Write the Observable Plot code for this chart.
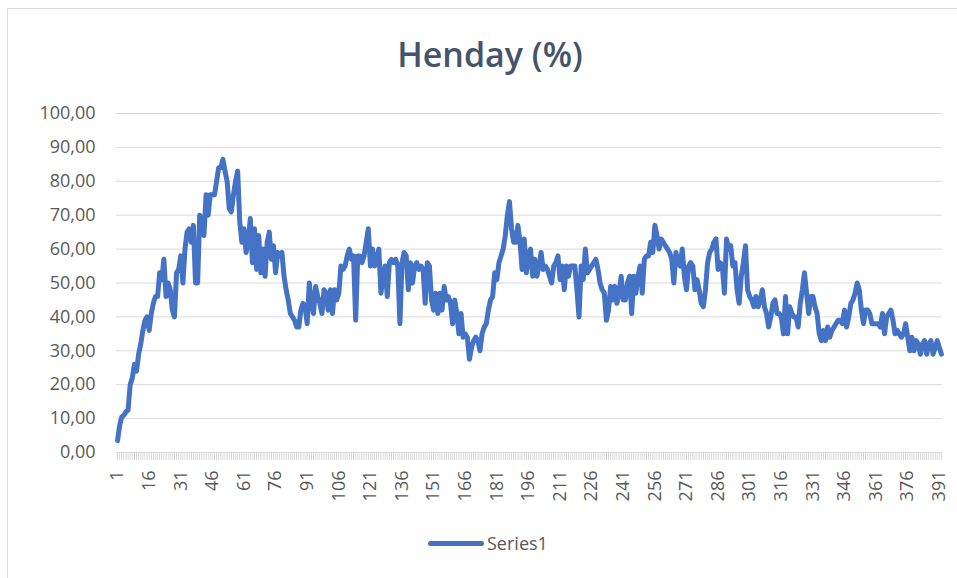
<!DOCTYPE html>
<html>
<head>
<meta charset="utf-8">
<script src="https://cdn.jsdelivr.net/npm/d3@7"></script>
<script src="https://cdn.jsdelivr.net/npm/@observablehq/plot@0.6"></script>
<style>
  html, body { margin: 0; padding: 0; background: #ffffff; }
  body { width: 957px; height: 578px; position: relative; overflow: hidden; font-family: "Open Sans", sans-serif; }
  #frame { position: absolute; left: 7px; top: 8px; width: 960px; height: 600px; border-left: 1px solid #d9d9d9; border-top: 1px solid #d9d9d9; }
  #title { position: absolute; left: 0; width: 980px; top: 31px; text-align: center; font-size: 34px; font-weight: 600; color: #44546a; }
  #chart { position: absolute; left: 0; top: 0; }
  #legend { position: absolute; top: 531px; left: 428px; display: flex; align-items: center; font-size: 18px; color: #595959; }
  #legend .sw { width: 56px; height: 5px; background: #4472c4; border-radius: 3px; margin-right: 3px; }
</style>
</head>
<body>
<div id="frame"></div>
<div id="title">Henday (%)</div>
<div id="chart"></div>
<div id="legend"><span class="sw"></span><span>Series1</span></div>
<script>
const seriesName = "Series1";
const henday = [
  3.5,8,10.5,11,12,12.5,20,22,26,24,
  29,32,36,39,40,36,41,44,46,46,
  53,51,57,46,50,48,42,40,53,54,
  58,50,60,65,66,62,67,50,50,70,
  68,64,76,70,76,76,76,80,84,84,
  86.5,83,80,72,71,76,80,83,68,62,
  66,59,62,69,56,66,54,64,53,60,
  52,62,65,57,61,53,59,58,59,52,
  48,45,41,40,39,37,37,42,44,43,
  38,50,44,41,49,46,44,41,48,47,
  42,48,41,48,45,47,55,54,55,58,
  60,57,58,39,58,58,56,58,62,66,
  55,60,55,57,60,47,52,55,46,56,
  57,56,57,55,38,56,59,58,48,56,
  50,55,56,54,55,54,44,56,55,45,
  42,47,41,47,42,49,45,46,44,38,
  45,41,35,41,34,35,34,27.5,31,33,
  34,33,30,35,37,38,42,45,46,53,
  51,56,58,60,64,70,74,66,62,62,
  67,62,54,63,53,58,60,52,57,52,
  55,59,54,55,54,52,50,55,56,58,
  51,55,48,55,52,55,55,55,48,40,
  55,51,60,53,54,55,56,57,54,50,
  48,47,39,42,49,45,49,44,47,52,
  45,45,50,52,41,52,47,52,55,47,
  57,58,58,62,59,67,64,60,63,62,
  61,60,59,57,50,59,56,55,60,52,
  48,55,56,55,48,51,48,44,43,48,
  56,59,60,62,63,54,56,55,47,63,
  60,61,55,56,48,44,52,56,61,48,
  46,45,43,46,43,45,48,43,41,37,
  40,44,45,41,41,40,35,46,35,43,
  41,40,40,37,44,48,53,47,41,46,
  46,43,41,35,33,36,33,37,34,36,
  37,38,39,39,38,42,37,40,44,45,
  47,50,48,42,38,42,42,41,38,38,
  38,38,37,41,35,40,41,42,39,35,
  36,35,34,35,38,34,30,34,30,33,
  32,29,32,33,29,32,33,29,31,33,
  31,29
];
const categories = henday.map((d, i) => i + 1);
const xTickLabels = [1,16,31,46,61,76,91,106,121,136,151,166,181,196,211,226,241,256,271,286,301,316,331,346,361,376,391];
const yTicks = [0,10,20,30,40,50,60,70,80,90,100];

const data = categories.map((c, i) => ({idx: c, value: henday[i]}));

const chart = Plot.plot({
  width: 957,
  height: 520,
  marginTop: 113,
  marginBottom: 68,
  marginLeft: 116,
  marginRight: 15,
  style: { fontFamily: "'Open Sans', sans-serif", background: "transparent", overflow: "visible" },
  x: { type: "linear", domain: [0.5, categories.length + 0.5], label: null },
  y: { domain: [0, 100], label: null },
  marks: [
    Plot.ruleY(yTicks, { stroke: "#d9d9d9", strokeWidth: 1 }),
    Plot.axisX({ ticks: categories, tickSize: 8, tickFormat: () => "", stroke: "#d9d9d9", strokeOpacity: 1, label: null }),
    Plot.axisX({ ticks: xTickLabels, tickSize: 0, tickRotate: -90, tickPadding: 18, tickFormat: d => String(d), fontSize: 18, fill: "#595959", label: null }),
    Plot.axisY({ ticks: yTicks, tickSize: 0, tickPadding: 21, tickFormat: d => d.toFixed(2).replace(".", ","), fontSize: 18, fill: "#595959", label: null }),
    Plot.lineY(data, { x: "idx", y: "value", stroke: "#4472c4", strokeWidth: 5, strokeLinejoin: "round", strokeLinecap: "round" })
  ]
});
document.getElementById("chart").appendChild(chart);
</script>
</body>
</html>
